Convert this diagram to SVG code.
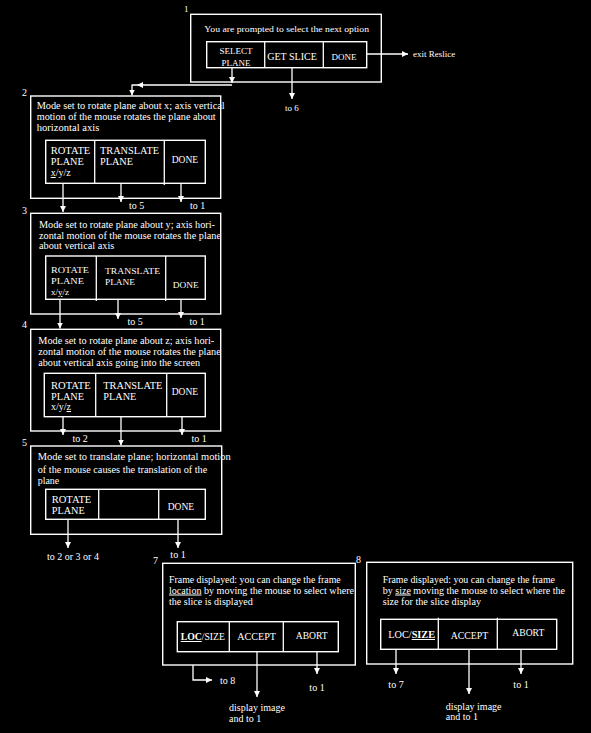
<svg xmlns="http://www.w3.org/2000/svg" width="591" height="733" viewBox="0 0 591 733">
<style>
.bg{fill:#000}
.box{fill:none;stroke:#fff;stroke-width:1.4}
.ln{fill:none;stroke:#fff;stroke-width:1.3}
.t{fill:#fff;font-family:"Liberation Serif","Times New Roman",serif;font-size:10px}
.s{fill:#fff;font-family:"Liberation Serif","Times New Roman",serif;font-size:9px}
.m{fill:#fff;font-family:"Liberation Serif","Times New Roman",serif;font-size:10.5px}
.c{text-anchor:middle}
.u{text-decoration:underline}
.b{font-weight:bold}
</style>
<defs>
<marker id="ah" viewBox="0 0 6 6" refX="6" refY="3" markerWidth="6" markerHeight="6" markerUnits="userSpaceOnUse" orient="auto">
<path d="M0,0 L6,3 L0,6 z" fill="#fff"/>
</marker>
</defs>
<rect class="bg" x="0" y="0" width="591" height="733"/>

<g id="node1">
<text class="s" x="184" y="12">1</text>
<rect class="box" x="190.7" y="14.3" width="190.6" height="67.7"/>
<text class="s" x="204.3" y="32" textLength="164.7" lengthAdjust="spacingAndGlyphs">You are prompted to select the next option</text>
<rect class="box" x="206.7" y="41.7" width="160" height="26"/>
<line class="ln" x1="264.7" y1="41.7" x2="264.7" y2="67.7"/>
<line class="ln" x1="323.3" y1="41.7" x2="323.3" y2="67.7"/>
<text class="s c" x="236" y="53.5">SELECT</text>
<text class="s c" x="236" y="65.5">PLANE</text>
<text class="t c" x="292" y="59.5">GET SLICE</text>
<text class="s c" x="344" y="59.5">DONE</text>
</g>

<g id="node2">
<text class="t" x="22" y="95.5">2</text>
<rect class="box" x="30.7" y="96" width="190" height="102.3"/>
<text class="t" x="36.7" y="109" textLength="188" lengthAdjust="spacingAndGlyphs">Mode set to rotate plane about x; axis vertical</text>
<text class="t" x="36.7" y="120" textLength="179" lengthAdjust="spacingAndGlyphs">motion of the mouse rotates the plane about</text>
<text class="t" x="36.7" y="131" textLength="62.6" lengthAdjust="spacingAndGlyphs">horizontal axis</text>
<rect class="box" x="45.7" y="140.3" width="159.6" height="43"/>
<line class="ln" x1="94.7" y1="140.3" x2="94.7" y2="183.3"/>
<line class="ln" x1="164.3" y1="140.3" x2="164.3" y2="185"/>
<text class="m" x="50.7" y="154" textLength="39.6" lengthAdjust="spacingAndGlyphs">ROTATE</text>
<text class="m" x="50.7" y="165" textLength="33" lengthAdjust="spacingAndGlyphs">PLANE</text>
<text class="t" x="50.7" y="176"><tspan class="u">x</tspan>/y/z</text>
<text class="m" x="100" y="154" textLength="59" lengthAdjust="spacingAndGlyphs">TRANSLATE</text>
<text class="m" x="100" y="165" textLength="33" lengthAdjust="spacingAndGlyphs">PLANE</text>
<text class="m" x="171.7" y="162.5" textLength="26.4" lengthAdjust="spacingAndGlyphs">DONE</text>
</g>

<g id="node3">
<text class="t" x="22" y="213.5">3</text>
<rect class="box" x="30.7" y="213.3" width="190" height="100.7"/>
<text class="t" x="39" y="227.5" textLength="176" lengthAdjust="spacingAndGlyphs">Mode set to rotate plane about y; axis hori-</text>
<text class="t" x="39" y="238.5" textLength="182" lengthAdjust="spacingAndGlyphs">zontal motion of the mouse rotates the plane</text>
<text class="t" x="39" y="249" textLength="75.3" lengthAdjust="spacingAndGlyphs">about vertical axis</text>
<rect class="box" x="45.7" y="256" width="159.6" height="43.3"/>
<line class="ln" x1="96.3" y1="256" x2="96.3" y2="301"/>
<line class="ln" x1="165.7" y1="256" x2="165.7" y2="301"/>
<text class="s" x="51" y="272.5" textLength="38" lengthAdjust="spacingAndGlyphs">ROTATE</text>
<text class="s" x="51" y="283.5" textLength="33" lengthAdjust="spacingAndGlyphs">PLANE</text>
<text class="s" x="51" y="295">x/<tspan class="u">y</tspan>/z</text>
<text class="s" x="105" y="273.5" textLength="55" lengthAdjust="spacingAndGlyphs">TRANSLATE</text>
<text class="s" x="105" y="284.5" textLength="30" lengthAdjust="spacingAndGlyphs">PLANE</text>
<text class="s" x="172.7" y="288" textLength="26" lengthAdjust="spacingAndGlyphs">DONE</text>
</g>

<g id="node4">
<text class="t" x="22" y="328">4</text>
<rect class="box" x="30.7" y="329.3" width="190" height="101.7"/>
<text class="t" x="38.3" y="344" textLength="176" lengthAdjust="spacingAndGlyphs">Mode set to rotate plane about z; axis hori-</text>
<text class="t" x="38.3" y="355" textLength="182.4" lengthAdjust="spacingAndGlyphs">zontal motion of the mouse rotates the plane</text>
<text class="t" x="38.3" y="366" textLength="161.7" lengthAdjust="spacingAndGlyphs">about vertical axis going into the screen</text>
<rect class="box" x="44.3" y="373.3" width="161" height="43.4"/>
<line class="ln" x1="95.7" y1="373.3" x2="95.7" y2="416.7"/>
<line class="ln" x1="166.7" y1="373.3" x2="166.7" y2="416.7"/>
<text class="m" x="51" y="388.5" textLength="39.6" lengthAdjust="spacingAndGlyphs">ROTATE</text>
<text class="m" x="51" y="399.5" textLength="33" lengthAdjust="spacingAndGlyphs">PLANE</text>
<text class="t" x="51" y="410">x/y/<tspan class="u">z</tspan></text>
<text class="m" x="103.3" y="388.5" textLength="59" lengthAdjust="spacingAndGlyphs">TRANSLATE</text>
<text class="m" x="103.3" y="399.5" textLength="33" lengthAdjust="spacingAndGlyphs">PLANE</text>
<text class="m" x="171.7" y="395" textLength="26.4" lengthAdjust="spacingAndGlyphs">DONE</text>
</g>

<g id="node5">
<text class="t" x="22" y="446">5</text>
<rect class="box" x="30.7" y="446" width="191" height="88.3"/>
<text class="t" x="37.7" y="460" textLength="193" lengthAdjust="spacingAndGlyphs">Mode set to translate plane; horizontal motion</text>
<text class="t" x="37.7" y="472.5" textLength="169.6" lengthAdjust="spacingAndGlyphs">of the mouse causes the  translation of the</text>
<text class="t" x="37.7" y="484" textLength="21.6" lengthAdjust="spacingAndGlyphs">plane</text>
<rect class="box" x="45.7" y="489.3" width="159.6" height="30"/>
<line class="ln" x1="98.7" y1="489.3" x2="98.7" y2="519.3"/>
<line class="ln" x1="158.7" y1="489.3" x2="158.7" y2="519.3"/>
<text class="m" x="51.7" y="502.5" textLength="39.6" lengthAdjust="spacingAndGlyphs">ROTATE</text>
<text class="m" x="51.7" y="514" textLength="33" lengthAdjust="spacingAndGlyphs">PLANE</text>
<text class="m" x="167.7" y="509.5" textLength="26.4" lengthAdjust="spacingAndGlyphs">DONE</text>
</g>

<g id="node7">
<text class="t" x="153" y="563.5">7</text>
<rect class="box" x="162.7" y="563.3" width="192.6" height="101.7"/>
<text class="t" x="169" y="583" textLength="171.7" lengthAdjust="spacingAndGlyphs">Frame displayed: you can change the frame</text>
<text class="t" x="169" y="593.5" textLength="185" lengthAdjust="spacingAndGlyphs"><tspan class="u">location</tspan> by moving the mouse to select where</text>
<text class="t" x="169" y="604.5" textLength="83.7" lengthAdjust="spacingAndGlyphs">the slice is displayed</text>
<rect class="box" x="177.3" y="621.7" width="161" height="30"/>
<line class="ln" x1="229.3" y1="621.7" x2="229.3" y2="651.7"/>
<line class="ln" x1="283.3" y1="621.7" x2="283.3" y2="651.7"/>
<text class="t" x="180.7" y="640" textLength="44.3" lengthAdjust="spacingAndGlyphs"><tspan class="b u">LOC</tspan>/SIZE</text>
<text class="m" x="237.3" y="640" textLength="38.7" lengthAdjust="spacingAndGlyphs">ACCEPT</text>
<text class="m" x="295.7" y="638.5" textLength="32" lengthAdjust="spacingAndGlyphs">ABORT</text>
</g>

<g id="node8">
<text class="t" x="356" y="563">8</text>
<rect class="box" x="366.7" y="562.3" width="206" height="101.7"/>
<text class="t" x="382.7" y="582.5" textLength="172.3" lengthAdjust="spacingAndGlyphs">Frame displayed: you can change the frame</text>
<text class="t" x="382.7" y="593.5" textLength="182.3" lengthAdjust="spacingAndGlyphs">by <tspan class="u">size</tspan> moving the mouse to select where the</text>
<text class="t" x="382.7" y="605" textLength="98.3" lengthAdjust="spacingAndGlyphs">size for the slice display</text>
<rect class="box" x="380.7" y="619.3" width="176" height="30"/>
<line class="ln" x1="438.3" y1="617.7" x2="438.3" y2="649.3"/>
<line class="ln" x1="497.3" y1="617.7" x2="497.3" y2="649.3"/>
<text class="t" x="388.3" y="638" textLength="46.7" lengthAdjust="spacingAndGlyphs">LOC/<tspan class="b u">SIZE</tspan></text>
<text class="m" x="450.7" y="638.5" textLength="37.6" lengthAdjust="spacingAndGlyphs">ACCEPT</text>
<text class="m" x="512.3" y="636" textLength="32" lengthAdjust="spacingAndGlyphs">ABORT</text>
</g>

<g id="connectors">
<path class="ln" d="M232,68 V83" marker-end="url(#ah)"/>
<path class="ln" d="M232,85 H137" marker-end="url(#ah)"/>
<path class="ln" d="M132,85 H137 M132,84.4 V95.5" marker-end="url(#ah)"/>
<path class="ln" d="M292,68 V99" marker-end="url(#ah)"/>
<path class="ln" d="M367,54 H408" marker-end="url(#ah)"/>
<path class="ln" d="M63,183 V212" marker-end="url(#ah)"/>
<path class="ln" d="M121,183 V202" marker-end="url(#ah)"/>
<path class="ln" d="M181,183 V202" marker-end="url(#ah)"/>
<path class="ln" d="M60,299 V328.5" marker-end="url(#ah)"/>
<path class="ln" d="M118,299 V319" marker-end="url(#ah)"/>
<path class="ln" d="M181,299 V318" marker-end="url(#ah)"/>
<path class="ln" d="M63,417 V435" marker-end="url(#ah)"/>
<path class="ln" d="M121,417 V445.5" marker-end="url(#ah)"/>
<path class="ln" d="M182,417 V435" marker-end="url(#ah)"/>
<path class="ln" d="M68,519 V548" marker-end="url(#ah)"/>
<path class="ln" d="M178,519 V548" marker-end="url(#ah)"/>
<path class="ln" d="M193,665 V680 H212" marker-end="url(#ah)"/>
<path class="ln" d="M257,652 V697" marker-end="url(#ah)"/>
<path class="ln" d="M317,652 V674" marker-end="url(#ah)"/>
<path class="ln" d="M396,649 V674" marker-end="url(#ah)"/>
<path class="ln" d="M469,649 V694" marker-end="url(#ah)"/>
<path class="ln" d="M521,649 V674" marker-end="url(#ah)"/>
<text class="s c" x="292" y="111">to 6</text>
<text class="s" x="413" y="57">exit Reslice</text>
<text class="t" x="129" y="208.5">to 5</text>
<text class="t" x="190" y="208.5">to 1</text>
<text class="t" x="127.5" y="324.5">to 5</text>
<text class="t" x="189.5" y="324.5">to 1</text>
<text class="t" x="72.5" y="441.5">to 2</text>
<text class="t" x="191.5" y="441.5">to 1</text>
<text class="t c" x="73" y="559.5">to 2 or 3 or 4</text>
<text class="t c" x="178" y="557.5">to 1</text>
<text class="t" x="220" y="683.5">to 8</text>
<text class="t" x="229" y="711">display image</text>
<text class="t" x="229" y="721.5">and to 1</text>
<text class="t c" x="317" y="691">to 1</text>
<text class="t c" x="396" y="687.5">to 7</text>
<text class="t" x="445.7" y="709.5">display image</text>
<text class="t" x="445.7" y="720">and to 1</text>
<text class="t c" x="521" y="687.5">to 1</text>
</g>
</svg>
